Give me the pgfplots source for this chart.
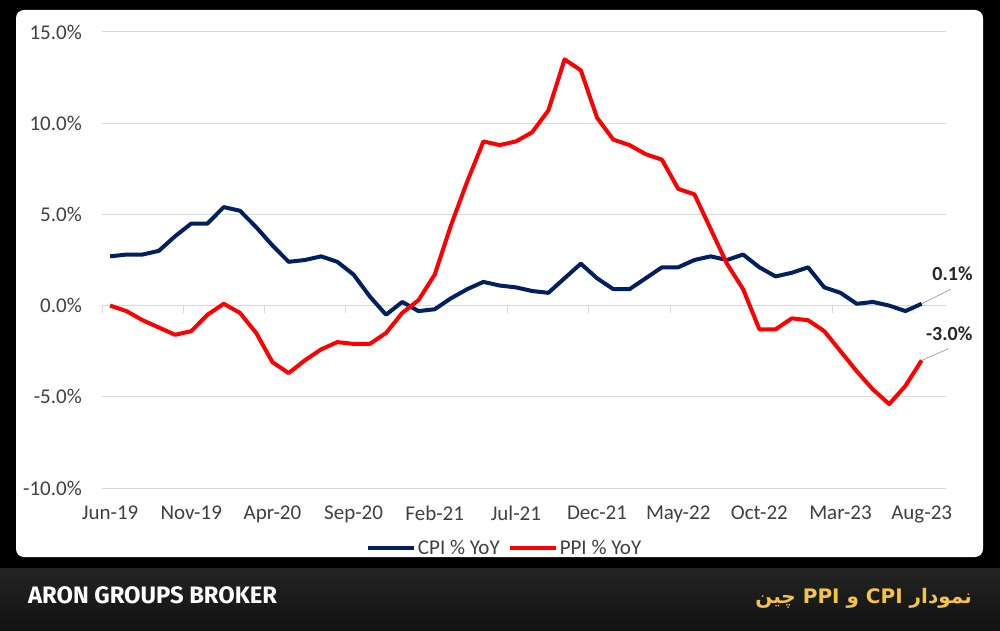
\documentclass[border=0pt]{standalone}
\usepackage{pgfplots}
\pgfplotsset{compat=1.18}
\usepackage{pgfplotstable}
\usepackage{fontspec}
\setmainfont{Carlito}
\newfontfamily\brandfont{Fira Sans}
\newfontfamily\arabicfont[Script=Arabic]{DejaVu Sans}
\TeXXeTstate=1
\definecolor{cpiblue}{HTML}{002060}
\definecolor{ppired}{HTML}{FF0000}
\definecolor{gridgray}{HTML}{D9D9D9}
\definecolor{labelgray}{HTML}{404040}
\definecolor{gold}{HTML}{F4C443}
\pgfplotstableread{
i cpi ppi
0 2.7 0.0
1 2.8 -0.3
2 2.8 -0.8
3 3.0 -1.2
4 3.8 -1.6
5 4.5 -1.4
6 4.5 -0.5
7 5.4 0.1
8 5.2 -0.4
9 4.3 -1.5
10 3.3 -3.1
11 2.4 -3.7
12 2.5 -3.0
13 2.7 -2.4
14 2.4 -2.0
15 1.7 -2.1
16 0.5 -2.1
17 -0.5 -1.5
18 0.2 -0.4
19 -0.3 0.3
20 -0.2 1.7
21 0.4 4.4
22 0.9 6.8
23 1.3 9.0
24 1.1 8.8
25 1.0 9.0
26 0.8 9.5
27 0.7 10.7
28 1.5 13.5
29 2.3 12.9
30 1.5 10.3
31 0.9 9.1
32 0.9 8.8
33 1.5 8.3
34 2.1 8.0
35 2.1 6.4
36 2.5 6.1
37 2.7 4.2
38 2.5 2.3
39 2.8 0.9
40 2.1 -1.3
41 1.6 -1.3
42 1.8 -0.7
43 2.1 -0.8
44 1.0 -1.4
45 0.7 -2.5
46 0.1 -3.6
47 0.2 -4.6
48 0.0 -5.4
49 -0.3 -4.4
50 0.1 -3.0
}\datatable
\begin{document}
\begin{tikzpicture}
\useasboundingbox (0pt,0pt) rectangle (1000pt,630pt);
\fill[black] (0pt,0pt) rectangle (1000pt,630pt);
\fill[white, rounded corners=8pt] (16pt,73pt) rectangle (983pt,620pt);
\shade[top color=black!86, bottom color=black!93] (0pt,0pt) rectangle (1000pt,62pt);
\node[anchor=base west, text=white, inner sep=0pt, font=\brandfont\bfseries\fontsize{23.8}{28}\selectfont] at (28pt,27pt) {ARON GROUPS BROKER};
\node[anchor=base east, text=gold, inner sep=0pt, font=\arabicfont\bfseries\fontsize{20}{24}\selectfont] at (972pt,27pt) {\beginR نمودار \beginL CPI\endL{} و \beginL PPI\endL{} چین\endR};
\begin{axis}[
  at={(102pt,142pt)}, anchor=south west,
  width=844pt, height=456pt, scale only axis,
  xmin=-0.5, xmax=51.5, ymin=-10, ymax=15,
  axis line style={draw=none},
  ytick={-10,-5,0,5,10,15},
  yticklabels={-10.0\%,-5.0\%,0.0\%,5.0\%,10.0\%,15.0\%},
  xtick={0,5,10,15,20,25,30,35,40,45,50},
  xticklabels={Jun-19,Nov-19,Apr-20,Sep-20,Feb-21,Jul-21,Dec-21,May-22,Oct-22,Mar-23,Aug-23},
  major tick length=0pt,
  ymajorgrids, grid style={gridgray, line width=1pt},
  tick label style={font=\fontsize{21}{24}\selectfont, text=labelgray, inner sep=0pt},
  yticklabel style={xshift=-20pt},
  xticklabel style={yshift=-18pt},
  clip=false,
  legend style={at={(0.477,-0.1316)}, anchor=center, draw=none, fill=none,
    legend columns=2, font=\fontsize{21}{24}\selectfont, text=labelgray,
    /tikz/every even column/.append style={column sep=6pt}},
  legend image code/.code={\draw[#1, line width=4pt] (0pt,0pt) -- (46pt,0pt);},
]
\pgfplotsinvokeforeach{-0.5,4.5,9.5,14.5,19.5,24.5,29.5,34.5,39.5,44.5,49.5}{
  \draw[gridgray, line width=1pt] (axis cs:#1,0) -- ++(0pt,-7pt);
}
\draw[gray!70, line width=0.8pt] (axis cs:50,0.1) -- (axis cs:51.8,0.9);
\draw[gray!70, line width=0.8pt] (axis cs:50,-3.0) -- (axis cs:51.66,-2.36);
\addplot[cpiblue, line width=4pt, line join=round] table[x=i,y=cpi]{\datatable};
\addlegendentry{CPI \% YoY}
\addplot[ppired, line width=4pt, line join=round] table[x=i,y=ppi]{\datatable};
\addlegendentry{PPI \% YoY}
\node[font=\bfseries\fontsize{20}{24}\selectfont, text=black!85] at (axis cs:51.9,1.75) {0.1\%};
\node[font=\bfseries\fontsize{20}{24}\selectfont, text=black!85] at (axis cs:51.7,-1.54) {-3.0\%};
\end{axis}
\end{tikzpicture}
\end{document}
